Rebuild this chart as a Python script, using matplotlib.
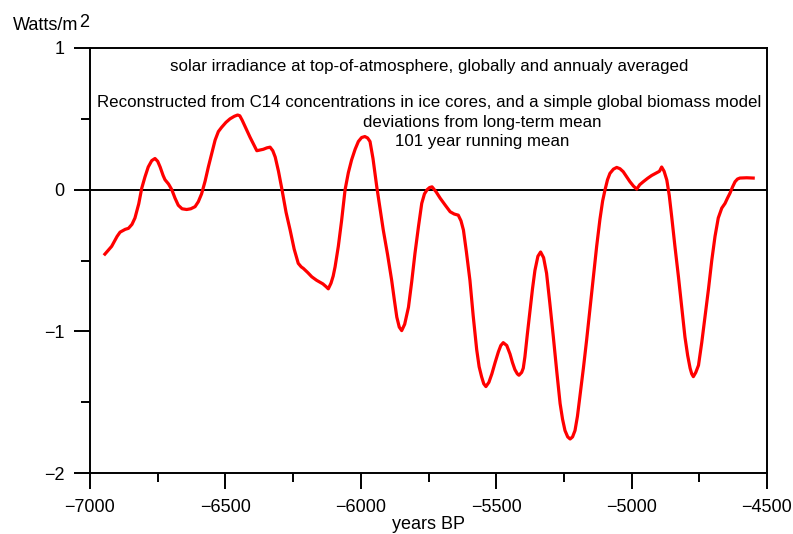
import matplotlib
matplotlib.use("Agg")
import matplotlib.pyplot as plt
from matplotlib.ticker import MultipleLocator

plt.rcParams['font.family'] = ['Liberation Sans', 'DejaVu Sans']

# (years BP, W/m2 deviation from long-term mean)
years = [-6945, -6920, -6900, -6889, -6870, -6858, -6845, -6834, -6820, -6809,
         -6797, -6785, -6772, -6760, -6750, -6741, -6730, -6723, -6710, -6698,
         -6686, -6674, -6660, -6643, -6628, -6612, -6600, -6588, -6575, -6563,
         -6550, -6538, -6526, -6514, -6498, -6483, -6467, -6455, -6447, -6438,
         -6421, -6409, -6396, -6384, -6372, -6360, -6347, -6335, -6325, -6316,
         -6304, -6292, -6276, -6261, -6246, -6231, -6220, -6212, -6196, -6181,
         -6163, -6140, -6128, -6120, -6110, -6102, -6095, -6083, -6071, -6064,
         -6058, -6046, -6034, -6021, -6009, -5997, -5985, -5975, -5966, -5955,
         -5941, -5929, -5917, -5901, -5886, -5876, -5867, -5858, -5849, -5838,
         -5824, -5812, -5800, -5787, -5775, -5765, -5755, -5746, -5737, -5722,
         -5707, -5688, -5670, -5655, -5640, -5630, -5621, -5610, -5597, -5585,
         -5572, -5563, -5554, -5546, -5538, -5527, -5516, -5504, -5492, -5483,
         -5474, -5461, -5449, -5440, -5431, -5422, -5416, -5406, -5400, -5394,
         -5385, -5375, -5366, -5357, -5346, -5336, -5325, -5314, -5302, -5289,
         -5276, -5264, -5255, -5246, -5236, -5227, -5218, -5209, -5200, -5191,
         -5178, -5166, -5153, -5141, -5129, -5117, -5107, -5098, -5089, -5080,
         -5067, -5055, -5043, -5031, -5018, -5006, -4993, -4981, -4970, -4957,
         -4941, -4926, -4907, -4897, -4889, -4880, -4870, -4861, -4852, -4840,
         -4827, -4815, -4803, -4793, -4784, -4778, -4772, -4763, -4753, -4741,
         -4729, -4716, -4704, -4692, -4680, -4667, -4655, -4646, -4637, -4627,
         -4618, -4609, -4600, -4575, -4551]
irradiance = [-0.455, -0.40, -0.33, -0.30, -0.28, -0.273, -0.245, -0.20, -0.10, 0.01,
              0.09, 0.16, 0.205, 0.22, 0.20, 0.16, 0.10, 0.07, 0.04, 0.0,
              -0.06, -0.11, -0.135, -0.14, -0.135, -0.12, -0.085, -0.03, 0.06, 0.16,
              0.26, 0.35, 0.41, 0.44, 0.475, 0.50, 0.518, 0.527, 0.522, 0.49,
              0.42, 0.37, 0.32, 0.275, 0.28, 0.285, 0.295, 0.30, 0.275, 0.23,
              0.13, 0.01, -0.16, -0.285, -0.42, -0.52, -0.545, -0.556, -0.585, -0.615,
              -0.64, -0.665, -0.685, -0.70, -0.66, -0.61, -0.545, -0.40, -0.22, -0.10,
              0.0, 0.12, 0.21, 0.285, 0.34, 0.368, 0.375, 0.365, 0.34, 0.22,
              0.02, -0.13, -0.285, -0.46, -0.64, -0.78, -0.90, -0.97, -0.995, -0.95,
              -0.83, -0.65, -0.45, -0.26, -0.097, -0.03, 0.0, 0.015, 0.02, -0.015,
              -0.06, -0.11, -0.156, -0.172, -0.18, -0.22, -0.285, -0.44, -0.64, -0.89,
              -1.13, -1.25, -1.32, -1.37, -1.39, -1.36, -1.30, -1.22, -1.145, -1.10,
              -1.08, -1.10, -1.16, -1.22, -1.27, -1.30, -1.31, -1.29, -1.26, -1.18,
              -1.02, -0.85, -0.70, -0.57, -0.47, -0.44, -0.48, -0.59, -0.80, -1.04,
              -1.29, -1.51, -1.62, -1.70, -1.745, -1.76, -1.745, -1.70, -1.60, -1.46,
              -1.26, -1.06, -0.83, -0.615, -0.40, -0.21, -0.08, 0.0, 0.07, 0.115,
              0.145, 0.157, 0.148, 0.127, 0.09, 0.056, 0.025, 0.004, 0.035, 0.056,
              0.08, 0.10, 0.12, 0.13, 0.16, 0.13, 0.068, -0.04, -0.19, -0.40,
              -0.615, -0.83, -1.04, -1.17, -1.26, -1.30, -1.32, -1.29, -1.24, -1.08,
              -0.90, -0.70, -0.50, -0.33, -0.20, -0.13, -0.097, -0.06, -0.026, 0.02,
              0.056, 0.075, 0.082, 0.084, 0.082]

xticks = [-7000, -6500, -6000, -5500, -5000, -4500]
yticks = [-2, -1, 0, 1]

notes = [
    ("solar irradiance at top-of-atmosphere, globally and annualy averaged", -5748, 0.838),
    ("Reconstructed from C14 concentrations in ice cores, and a simple global biomass model", -5748, 0.581),
    ("deviations from long-term mean", -5550, 0.444),
    ("101 year running mean", -5550, 0.308),
]

fig = plt.figure(figsize=(7.93, 5.34), dpi=100)
ax = fig.add_axes([90 / 793, 61 / 534, 677 / 793, 425 / 534])

ax.plot(years, irradiance, color='red', lw=2.3, solid_joinstyle='round')
ax.axhline(0, color='black', lw=1.4, zorder=1)

ax.set_xlim(-7000, -4500)
ax.set_ylim(-2, 1)
ax.set_xticks(xticks)
ax.set_yticks(yticks)
ax.xaxis.set_minor_locator(MultipleLocator(250))
ax.yaxis.set_minor_locator(MultipleLocator(0.5))
ax.tick_params(which='major', direction='out', length=11.5, width=1.4,
               labelsize=13, pad=7)
ax.tick_params(which='minor', direction='out', length=6.5, width=1.4)
for s in ax.spines.values():
    s.set_linewidth(1.4)

ax.set_xlabel("years BP", fontsize=13, labelpad=0)

for txt, x, y in notes:
    ax.text(x, y, txt, ha='center', va='baseline', fontsize=12.2)

fig.text(13 / 793, 1 - 30 / 534, "Watts/m", fontsize=13, va='baseline', ha='left')
fig.text(79 / 793, 1 - 27 / 534, "2", fontsize=13, va='baseline', ha='left')

fig.savefig("out.png", dpi=100)
